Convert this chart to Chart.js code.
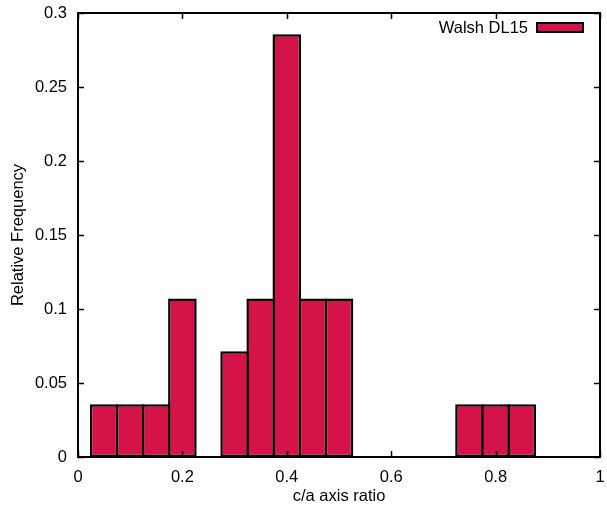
<!DOCTYPE html>
<html>
<head>
<meta charset="utf-8">
<script src="https://cdn.jsdelivr.net/npm/chart.js@4/dist/chart.umd.min.js"></script>
<style>
  html, body { margin: 0; padding: 0; background: #fff; }
  #wrap { width: 607px; height: 505px; }
</style>
</head>
<body>
<div id="wrap"><canvas id="c" width="607" height="505"></canvas></div>
<script>
// Histogram of c/a axis ratios (bin centres, 0.05 wide) and relative frequencies
const binCenters = [0.05, 0.10, 0.15, 0.20, 0.30, 0.35, 0.40, 0.45, 0.50, 0.75, 0.80, 0.85];
const frequencies = [0.0357, 0.0357, 0.0357, 0.1071, 0.0714, 0.1071, 0.2857, 0.1071, 0.1071, 0.0357, 0.0357, 0.0357];
const seriesLabel = 'Walsh DL15';
const xTicks = [0, 0.2, 0.4, 0.6, 0.8, 1];
const yTicks = [0, 0.05, 0.1, 0.15, 0.2, 0.25, 0.3];

const FONT = '"Liberation Sans", Arial, Helvetica, sans-serif';
const FONT_SIZE = 16.5;
const BAR_FILL = '#d41448';
const BAR_EDGE = '#000000';

// gnuplot-style frame: border box with inward ticks on all four sides
const framePlugin = {
  id: 'frame',
  afterDatasetsDraw(chart) {
    const { ctx, chartArea: a, scales } = chart;
    const t = 6;
    ctx.save();
    ctx.strokeStyle = '#000';
    ctx.lineWidth = 1.5;
    ctx.beginPath();
    xTicks.forEach(v => {
      const x = Math.round(scales.x.getPixelForValue(v)) + 0.5;
      ctx.moveTo(x, a.bottom); ctx.lineTo(x, a.bottom - t);
      ctx.moveTo(x, a.top); ctx.lineTo(x, a.top + t);
    });
    yTicks.forEach(v => {
      const y = Math.round(scales.y.getPixelForValue(v)) + 0.5;
      ctx.moveTo(a.left, y); ctx.lineTo(a.left + t, y);
      ctx.moveTo(a.right, y); ctx.lineTo(a.right - t, y);
    });
    ctx.stroke();
    ctx.lineWidth = 2;
    ctx.strokeRect(a.left, a.top, a.right - a.left, a.bottom - a.top);
    ctx.restore();
  }
};

// Key in the upper right corner: label text followed by a filled swatch
const keyPlugin = {
  id: 'key',
  afterDraw(chart) {
    const { ctx, chartArea: a } = chart;
    const ds = chart.data.datasets[0];
    const swR = a.right - 17, swW = 46, swH = 9, cy = 27.5;
    ctx.save();
    ctx.font = FONT_SIZE + 'px ' + FONT;
    ctx.fillStyle = '#000';
    ctx.textAlign = 'right';
    ctx.textBaseline = 'middle';
    ctx.fillText(ds.label, swR - swW - 9, cy + 0.5);
    ctx.fillStyle = ds.backgroundColor;
    ctx.fillRect(swR - swW, cy - swH / 2, swW, swH);
    ctx.strokeStyle = ds.borderColor;
    ctx.lineWidth = 2;
    ctx.strokeRect(swR - swW, cy - swH / 2, swW, swH);
    ctx.restore();
  }
};

new Chart(document.getElementById('c'), {
  type: 'bar',
  data: {
    datasets: [{
      label: seriesLabel,
      data: binCenters.map((x, i) => ({ x: x, y: frequencies[i] })),
      backgroundColor: BAR_FILL,
      borderColor: BAR_EDGE,
      borderWidth: 2.5,
      borderSkipped: false,
      categoryPercentage: 1,
      barPercentage: 1.096
    }]
  },
  options: {
    responsive: false,
    animation: false,
    devicePixelRatio: 1,
    layout: { padding: { top: 13, right: 7, left: 0, bottom: 0 } },
    plugins: {
      legend: { display: false },
      tooltip: { enabled: false }
    },
    scales: {
      x: {
        type: 'linear',
        min: 0, max: 1,
        offset: false,
        grid: { display: false, drawTicks: false },
        border: { display: false },
        afterBuildTicks(scale) { scale.ticks = xTicks.map(v => ({ value: v })); },
        afterFit(scale) {
          scale.height = 48;
          scale.paddingLeft = 0; scale.paddingRight = 0;
        },
        ticks: {
          padding: 11,
          color: '#000',
          font: { family: FONT, size: FONT_SIZE },
          maxRotation: 0,
          callback: v => String(v)
        },
        title: {
          display: true,
          text: 'c/a axis ratio',
          color: '#000',
          font: { family: FONT, size: FONT_SIZE },
          padding: { top: 0, bottom: -1 }
        }
      },
      y: {
        type: 'linear',
        min: 0, max: 0.3,
        grid: { display: false, drawTicks: false },
        border: { display: false },
        afterBuildTicks(scale) { scale.ticks = yTicks.map(v => ({ value: v })); },
        afterFit(scale) {
          scale.width = 78;
          scale.paddingTop = 0; scale.paddingBottom = 0;
        },
        ticks: {
          padding: 11,
          color: '#000',
          font: { family: FONT, size: FONT_SIZE },
          callback: v => String(v)
        },
        title: {
          display: true,
          text: 'Relative Frequency',
          color: '#000',
          font: { family: FONT, size: FONT_SIZE },
          padding: { top: 8.5, bottom: 0 }
        }
      }
    }
  },
  plugins: [framePlugin, keyPlugin]
});
</script>
</body>
</html>
